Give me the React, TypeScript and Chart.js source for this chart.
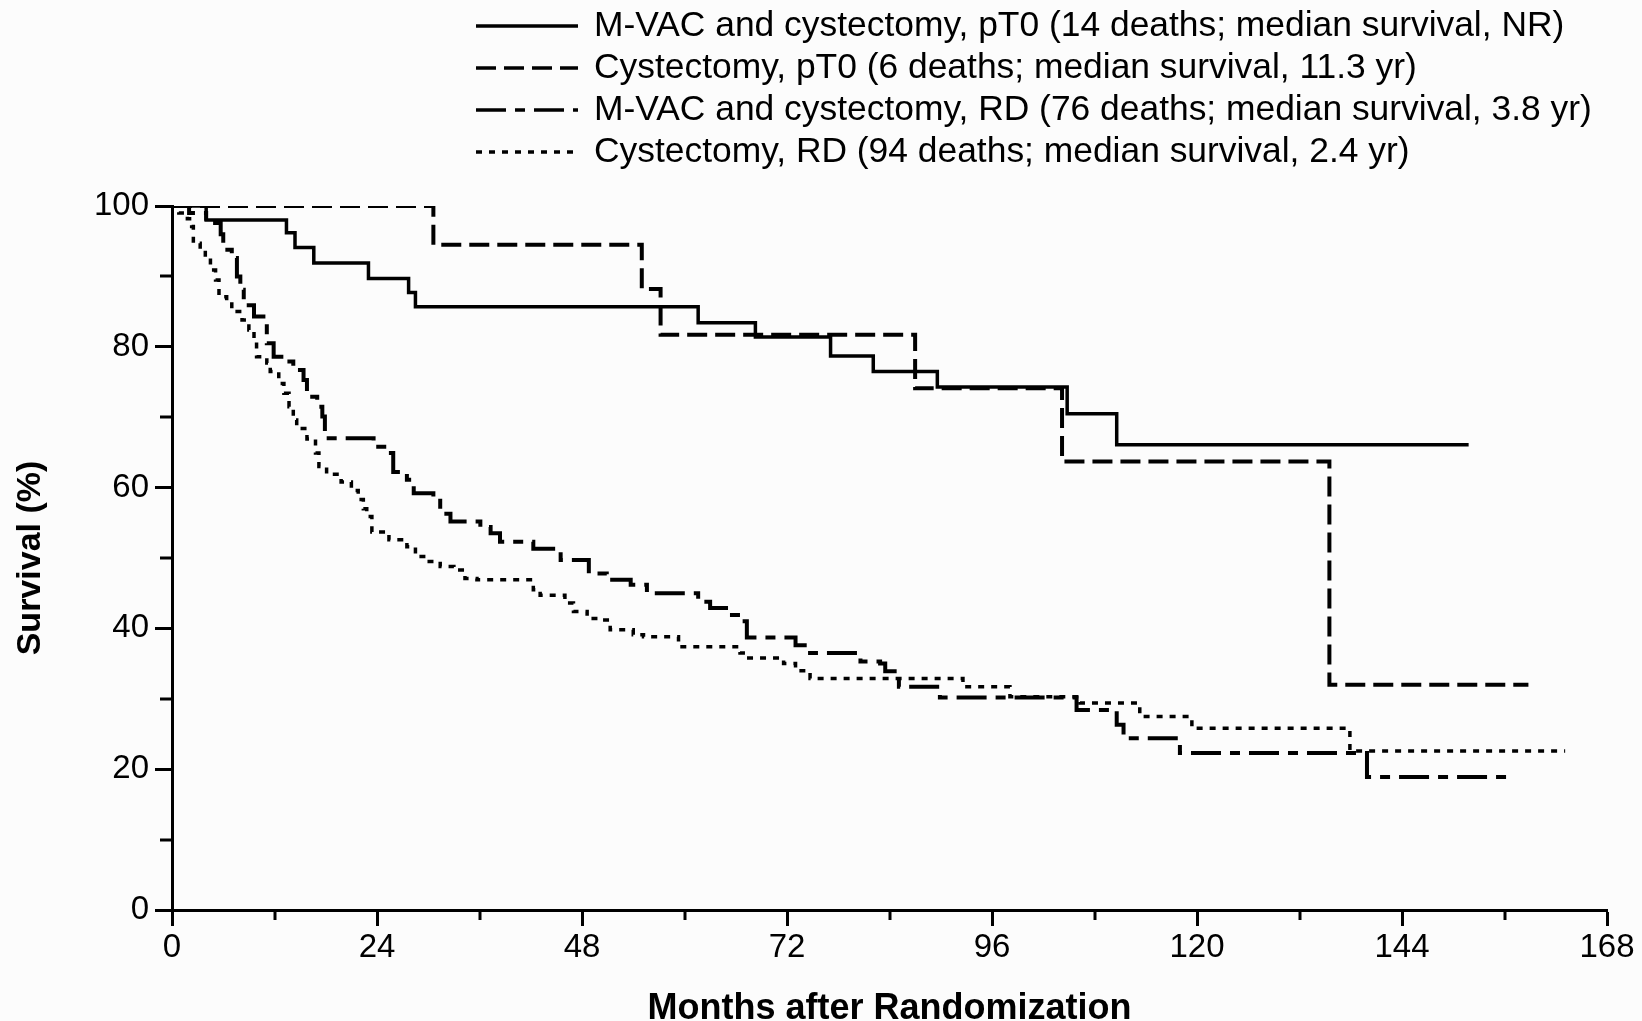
import React, { useEffect, useRef } from "react";
import { Chart, registerables } from "chart.js";

Chart.register(...registerables);

// ---- Data ----
const seriesLabels = [
  "M-VAC and cystectomy, pT0 (14 deaths; median survival, NR)",
  "Cystectomy, pT0 (6 deaths; median survival, 11.3 yr)",
  "M-VAC and cystectomy, RD (76 deaths; median survival, 3.8 yr)",
  "Cystectomy, RD (94 deaths; median survival, 2.4 yr)",
];

const mvacPT0Months = [0, 4, 13.4, 14.4, 16.6, 23.0, 27.7, 28.5, 61.6, 68.3, 77.1, 82.1, 89.6, 104.8, 110.6, 151.8];
const mvacPT0Survival = [100, 98, 96.2, 94.1, 91.9, 89.7, 87.7, 85.7, 83.4, 81.4, 78.7, 76.5, 74.3, 70.5, 66.1, 66.1];

const cystPT0Months = [0, 30.6, 55.0, 57.2, 87.0, 104.2, 135.5, 158.8];
const cystPT0Survival = [100, 94.5, 88.2, 81.7, 74.1, 63.7, 32.0, 32.0];

const mvacRDMonths = [
  0, 2, 4, 5.7, 6.0, 7.0, 7.6, 8.0, 8.4, 9.6, 10.7, 11.1, 11.9, 13.3, 14.2, 15.4, 15.8, 17.0, 17.6, 17.9,
  23.6, 25.2, 25.9, 27.5, 28.3, 30.6, 31.4, 32.6, 36.1, 37.3, 38.4, 42.3, 45.5, 48.8, 50.9, 53.7, 55.6,
  61.6, 63.0, 65.2, 66.5, 67.3, 73.0, 74.7, 80.6, 82.9, 83.5, 85.1, 89.9, 105.9, 110.6, 111.4, 118.0,
  139.9, 156.3,
];
const mvacRDSurvival = [
  100, 99, 97.6, 96, 93.8, 92.6, 90, 88.1, 85.9, 84.3, 83.3, 80.5, 78.6, 77.9, 76.7, 75.3, 72.9, 71.5, 70.1, 67.0,
  65.8, 64.9, 62.2, 61.1, 59.2, 58.6, 56.3, 55.2, 54.4, 53.5, 52.3, 51.3, 49.7, 47.8, 46.9, 46.2, 45.0,
  43.8, 42.9, 41.9, 41.0, 38.7, 37.6, 36.5, 35.3, 35.0, 33.9, 31.7, 30.2, 28.4, 26.3, 24.4, 22.3,
  18.9, 18.9,
];

const cystRDMonths = [
  0, 0.8, 1.8, 2.3, 2.5, 3.3, 3.9, 4.5, 5.1, 5.5, 6.4, 7.0, 8.2, 9.0, 9.6, 9.9, 11.1, 11.5, 12.5, 13.1,
  13.7, 14.2, 14.6, 15.8, 16.8, 17.2, 18.1, 19.8, 21.0, 21.8, 22.4, 22.8, 23.4, 25.4, 27.5, 28.5, 29.9,
  31.4, 33.0, 34.3, 35.7, 42.3, 43.1, 46.0, 47.0, 48.6, 50.1, 51.3, 54.0, 55.2, 59.3, 66.5, 67.3, 71.6,
  73.0, 74.7, 92.6, 98.1, 106.3, 113.3, 119.4, 137.9, 163.1,
];
const cystRDSurvival = [
  100, 99, 98.2, 97.1, 94.7, 93.8, 92.6, 90.9, 89.5, 87.1, 86.4, 85.0, 83.8, 82.4, 80.7, 78.6, 77.7, 76.5, 74.8, 73.4,
  71.5, 69.6, 68.4, 66.9, 64.9, 63.0, 61.9, 60.8, 59.6, 58.3, 57.0, 55.9, 53.7, 52.6, 51.6, 50.2, 49.5,
  48.8, 48.3, 47.1, 46.9, 45.5, 44.7, 43.6, 42.4, 41.4, 41.2, 39.8, 39.1, 38.8, 37.4, 36.5, 35.8, 35.0,
  34.0, 32.9, 31.7, 30.3, 29.4, 27.5, 25.8, 22.6, 22.6,
];

const xMin = 0;
const xMax = 168;
const xStep = 24;
const xMinorTicks = [12, 36, 60, 84, 108, 132, 156];
const yMin = 0;
const yMax = 100;
const yStep = 20;
const yMinorTicks = [10, 30, 50, 70, 90];
const xTitle = "Months after Randomization";
const yTitle = "Survival (%)";

// ---- Styles ----
const FONT = "'Liberation Sans', Arial, Helvetica, sans-serif";
const dashStyles: number[][] = [[], [20, 8], [30, 9, 10, 9], [6, 7]];
const lineWidths = [3.5, 4, 4, 3.5];

const toPoints = (xs: number[], ys: number[]) => xs.map((x, i) => ({ x, y: ys[i] }));

const bgPlugin = {
  id: "bg",
  beforeDraw(chart: any) {
    const { ctx, width, height } = chart;
    ctx.save();
    ctx.fillStyle = "#fcfcfc";
    ctx.fillRect(0, 0, width, height);
    ctx.restore();
  },
};

const minorTicksPlugin = {
  id: "minorTicks",
  afterDraw(chart: any) {
    const { ctx, chartArea, scales } = chart;
    ctx.save();
    ctx.strokeStyle = "#000";
    ctx.lineWidth = 3;
    ctx.setLineDash([]);
    xMinorTicks.forEach((v) => {
      const px = Math.round(scales.x.getPixelForValue(v));
      ctx.beginPath();
      ctx.moveTo(px, chartArea.bottom);
      ctx.lineTo(px, chartArea.bottom + 10);
      ctx.stroke();
    });
    yMinorTicks.forEach((v) => {
      const py = Math.round(scales.y.getPixelForValue(v));
      ctx.beginPath();
      ctx.moveTo(chartArea.left - 12, py);
      ctx.lineTo(chartArea.left, py);
      ctx.stroke();
    });
    ctx.restore();
  },
};

const legendPlugin = {
  id: "kmLegend",
  afterDraw(chart: any) {
    const { ctx } = chart;
    ctx.save();
    chart.data.datasets.forEach((ds: any, i: number) => {
      const y = 26 + i * 42;
      ctx.beginPath();
      ctx.setLineDash(ds.borderDash || []);
      ctx.lineWidth = 3.5;
      ctx.strokeStyle = "#000";
      ctx.moveTo(476, y);
      ctx.lineTo(578, y);
      ctx.stroke();
      ctx.setLineDash([]);
      ctx.fillStyle = "#000";
      ctx.font = `35.4px ${FONT}`;
      ctx.textBaseline = "middle";
      ctx.textAlign = "left";
      ctx.fillText(ds.label, 594, y);
    });
    ctx.restore();
  },
};

export default function App() {
  const ref = useRef<HTMLCanvasElement>(null);

  useEffect(() => {
    document.body.style.margin = "0";
    document.body.style.background = "#fcfcfc";
    const canvas = ref.current;
    if (!canvas) return;

    const seriesData = [
      toPoints(mvacPT0Months, mvacPT0Survival),
      toPoints(cystPT0Months, cystPT0Survival),
      toPoints(mvacRDMonths, mvacRDSurvival),
      toPoints(cystRDMonths, cystRDSurvival),
    ];

    const chart = new Chart(canvas, {
      type: "line",
      data: {
        datasets: seriesData.map((d, i) => ({
          label: seriesLabels[i],
          data: d,
          borderColor: "#000",
          backgroundColor: "#000",
          borderWidth: lineWidths[i],
          borderDash: dashStyles[i],
          borderCapStyle: "butt",
          stepped: "before",
          pointRadius: 0,
          fill: false,
        })) as any,
      },
      options: {
        animation: false,
        responsive: false,
        layout: { padding: { top: 206, right: 35, left: 0, bottom: 0 } },
        plugins: { legend: { display: false }, tooltip: { enabled: false }, title: { display: false } },
        scales: {
          x: {
            type: "linear",
            min: xMin,
            max: xMax,
            ticks: {
              stepSize: xStep,
              color: "#000",
              font: { family: FONT, size: 33 },
              padding: 2,
              maxRotation: 0,
              autoSkip: false,
            },
            grid: {
              drawOnChartArea: false,
              drawTicks: true,
              tickLength: 16,
              tickWidth: 3,
              tickColor: "#000",
            },
            border: { display: true, color: "#000", width: 3 },
            title: {
              display: true,
              text: xTitle,
              color: "#000",
              font: { family: FONT, size: 36, weight: "bold", lineHeight: 1 },
              padding: { top: 0, bottom: -6 },
            },
            afterFit: (s: any) => {
              s.height = 111;
            },
          },
          y: {
            type: "linear",
            min: yMin,
            max: yMax,
            ticks: {
              stepSize: yStep,
              color: "#000",
              font: { family: FONT, size: 33 },
              padding: 6,
            },
            grid: {
              drawOnChartArea: false,
              drawTicks: true,
              tickLength: 17,
              tickWidth: 3,
              tickColor: "#000",
            },
            border: { display: true, color: "#000", width: 3 },
            title: {
              display: true,
              text: yTitle,
              color: "#000",
              font: { family: FONT, size: 34, weight: "bold", lineHeight: 1 },
              padding: { top: 14, bottom: 0 },
            },
            afterFit: (s: any) => {
              s.width = 172;
            },
          },
        },
      } as any,
      plugins: [bgPlugin, minorTicksPlugin, legendPlugin],
    });

    return () => chart.destroy();
  }, []);

  return (
    <div style={{ width: 1642, height: 1021, overflow: "hidden" }}>
      <canvas ref={ref} width={1642} height={1021} style={{ display: "block" }} />
    </div>
  );
}
